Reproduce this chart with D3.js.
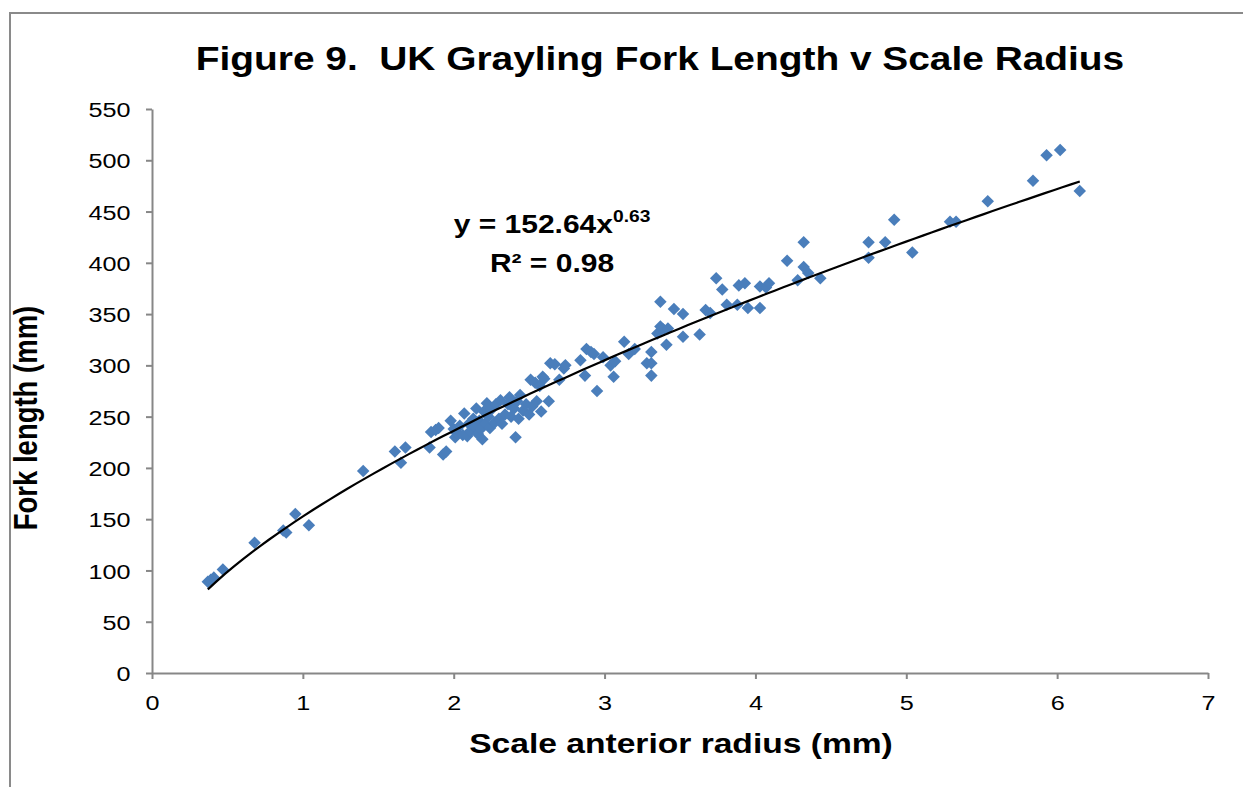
<!DOCTYPE html>
<html>
<head>
<meta charset="utf-8">
<script src="https://cdn.jsdelivr.net/npm/d3@7"></script>
<style>
  body { margin: 0; background: #fff; }
  svg text { font-family: "Liberation Sans", Arial, sans-serif; fill: #000; }
</style>
</head>
<body>
<div id="chart"></div>
<script>
// scale anterior radius (mm) and fork length (mm)
const scaleRadius = [
  0.37, 0.39, 0.41, 0.47, 0.68, 0.87, 0.89, 0.95, 1.04, 1.40, 1.61, 1.65, 1.68,
  1.84, 1.85, 1.88, 1.90, 1.93, 1.95, 1.98, 2.00, 2.01, 2.02, 2.04, 2.06, 2.07,
  2.09, 2.10, 2.11, 2.13, 2.14, 2.15, 2.16, 2.17, 2.18, 2.19, 2.20, 2.21, 2.22,
  2.23, 2.24, 2.25, 2.27, 2.28, 2.30, 2.31, 2.32, 2.34, 2.36, 2.37, 2.38, 2.40,
  2.41, 2.42, 2.43, 2.44, 2.46, 2.48, 2.50, 2.51, 2.52, 2.54, 2.55, 2.57, 2.58,
  2.59, 2.60, 2.63, 2.64, 2.67, 2.70, 2.73, 2.74,
  2.84, 2.87, 2.88, 2.91, 2.93, 2.95, 2.99, 3.04, 3.06, 3.07, 3.13, 3.16, 3.20,
  3.28, 3.31, 3.31, 3.31, 3.35, 3.37, 3.37, 3.39, 3.41, 3.42, 3.46, 3.52, 3.52,
  3.63, 3.67, 3.70, 3.74, 3.78, 3.81, 3.88, 3.89, 3.93, 3.95, 4.03, 4.03, 4.07,
  4.09, 4.21, 4.28, 4.32, 4.32, 4.35, 4.43, 4.75, 4.75, 4.86, 4.92, 5.04, 5.29,
  5.33, 5.54, 5.84, 5.93, 6.02, 6.15
];
const forkLength = [
  89, 91, 93, 101, 127, 139, 137, 155, 144, 197, 216, 205, 220,
  220, 235, 237, 239, 213, 216, 246, 238, 230, 234, 241, 232, 253,
  231, 243, 236, 248, 240, 258, 233, 246, 238, 228, 255, 243, 263,
  250, 239, 257, 244, 262, 248, 266, 243, 252, 262, 269, 250, 258,
  230, 265, 248, 271, 256, 262, 252, 286, 260, 283, 265, 280, 255,
  289, 287, 265, 302, 301, 286, 297, 300,
  305, 290, 316, 313, 311, 275, 308, 300, 289, 304, 323, 311, 316,
  302, 313, 302, 290, 331, 338, 362, 335, 320, 336, 355, 328, 350,
  330, 354, 351, 385, 374, 359, 359, 378, 380, 356, 356, 377, 376,
  380, 402, 383, 420, 396, 390, 385, 420, 405, 420, 442, 410, 440,
  440, 460, 480, 505, 510, 470
];

const xTicks = [0, 1, 2, 3, 4, 5, 6, 7];
const yTicks = [0, 50, 100, 150, 200, 250, 300, 350, 400, 450, 500, 550];

// power trendline y = a * x^b
const trendA = 152.64;
const trendB = 0.63;

const titleText = "Figure 9.  UK Grayling Fork Length v Scale Radius";
const xTitle = "Scale anterior radius (mm)";
const yTitle = "Fork length (mm)";

const width = 1243, height = 787;
const margin = {top: 109, right: 35, bottom: 114, left: 152};
const SX = 1.2; // the original figure is stretched sideways

const svg = d3.select('#chart').append('svg')
  .attr('width', width)
  .attr('height', height);

svg.append('rect')
  .attr('width', width).attr('height', height)
  .attr('fill', '#fff');

// chart area border (runs off the right and bottom of the picture)
svg.append('rect')
  .attr('x', 10).attr('y', 13)
  .attr('width', width + 20).attr('height', height + 20)
  .attr('fill', 'none')
  .attr('stroke', '#8a8a8a')
  .attr('stroke-width', 2);

const x = d3.scaleLinear()
  .domain([0, 7])
  .range([margin.left, width - margin.right]);
const y = d3.scaleLinear()
  .domain([0, 550])
  .range([height - margin.bottom, margin.top]);

const axisColor = '#878787';

//axes
const yAxis = d3.axisLeft(y).tickValues(yTicks).tickFormat(d3.format('d'))
  .tickSize(6).tickPadding(12).tickSizeOuter(0);
const xAxis = d3.axisBottom(x).tickValues(xTicks).tickFormat(d3.format('d'))
  .tickSize(6).tickPadding(16).tickSizeOuter(0);

const gy = svg.append('g')
  .attr('transform', 'translate(' + margin.left + ',0)')
  .call(yAxis);
const gx = svg.append('g')
  .attr('transform', 'translate(0,' + (height - margin.bottom) + ')')
  .call(xAxis);

[gx, gy].forEach(g => {
  g.select('.domain').attr('stroke', axisColor).attr('stroke-width', 2);
  g.selectAll('.tick line').attr('stroke', axisColor).attr('stroke-width', 2);
  g.selectAll('.tick text')
    .attr('fill', '#000')
    .style('font-size', '21px')
    .attr('transform', 'scale(' + SX + ',1)');
});
gy.selectAll('.tick text').attr('dy', '0.36em');
gx.selectAll('.tick text').attr('dy', '0.71em');

//trendline
const xMin = d3.min(scaleRadius), xMax = d3.max(scaleRadius);
const trendX = d3.range(0, 101).map(i => xMin + (xMax - xMin) * i / 100);
const line = d3.line()
  .x(d => x(d))
  .y(d => y(trendA * Math.pow(d, trendB)));

//points
const diamond = d3.symbol().type(d3.symbolDiamond2).size(100);
svg.append('g').selectAll('path')
  .data(scaleRadius.map((r, i) => ({x: r, y: forkLength[i]})))
  .enter().append('path')
  .attr('d', diamond)
  .attr('transform', d => 'translate(' + x(d.x) + ',' + y(d.y) + ')')
  .attr('fill', '#4a7ebb');

svg.append('path')
  .datum(trendX)
  .attr('d', line)
  .attr('fill', 'none')
  .attr('stroke', '#000')
  .attr('stroke-width', 2.2);

//titles
const addText = (str, tx, ty, size, rot) => svg.append('text')
  .attr('transform', 'translate(' + tx + ',' + ty + ') scale(' + SX + ',1)' + (rot ? ' rotate(' + rot + ')' : ''))
  .attr('text-anchor', 'middle')
  .style('font-size', size + 'px')
  .style('font-weight', 'bold')
  .style('white-space', 'pre')
  .text(str);

addText(titleText, 660, 70, 32.4);
addText(xTitle, 681, 753, 28);
addText(yTitle, 37, 418, 27.5, -90);

//equation label
const eq = svg.append('text')
  .attr('transform', 'translate(552,233) scale(' + SX + ',1)')
  .attr('text-anchor', 'middle')
  .style('font-size', '25px')
  .style('font-weight', 'bold');
eq.append('tspan').text('y = ' + trendA.toFixed(2) + 'x');
eq.append('tspan').attr('dy', -11).style('font-size', '16px').text(trendB.toFixed(2));
addText('R\u00B2 = 0.98', 552, 272, 25);
</script>
</body>
</html>
